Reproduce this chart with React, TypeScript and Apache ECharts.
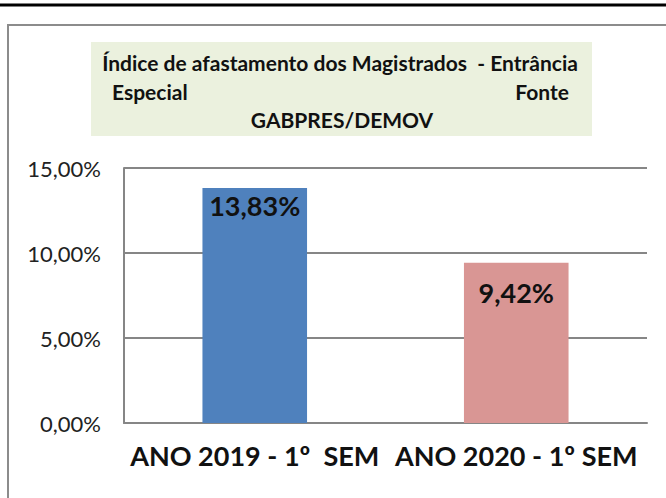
import React, { useEffect, useRef } from "react";
import * as echarts from "echarts";

const categories = ["ANO 2019 - 1º  SEM", "ANO 2020 - 1º SEM"];
const values = [13.83, 9.42];
const barColors = ["#4F81BD", "#D99694"];
const labelDistances = [4, 16];
const titleLine1 = "Índice de afastamento dos Magistrados  - Entrância";
const titleLine2Left = "Especial";
const titleLine2Right = "Fonte";
const titleLine3 = "GABPRES/DEMOV";
const yMin = 0;
const yMax = 15;
const yInterval = 5;

const fmt = (v: number) => v.toFixed(2).replace(".", ",") + "%";
const FONT = "Lato, 'Open Sans', sans-serif";

export default function App() {
  const ref = useRef<HTMLDivElement>(null);
  useEffect(() => {
    if (!ref.current) return;
    const chart = echarts.init(ref.current, null, { renderer: "svg" });
    const titleStyle = { fontFamily: FONT, fontWeight: "bold", fontSize: 21, fill: "#111" };
    chart.setOption({
      animation: false,
      backgroundColor: "#ffffff",
      grid: { left: 124, right: 19, top: 168, bottom: 75, containLabel: false },
      xAxis: {
        type: "category",
        data: categories,
        axisLine: { show: true, lineStyle: { color: "#868686", width: 2 } },
        axisTick: { show: false },
        axisLabel: {
          fontFamily: FONT,
          fontWeight: "bold",
          fontSize: 27,
          color: "#111",
          margin: 19,
          interval: 0,
        },
      },
      yAxis: {
        type: "value",
        min: yMin,
        max: yMax,
        interval: yInterval,
        axisLine: { show: true, lineStyle: { color: "#868686", width: 2 } },
        axisTick: { show: false },
        splitLine: { show: true, lineStyle: { color: "#868686", width: 2 } },
        axisLabel: {
          fontFamily: FONT,
          fontSize: 22,
          color: "#222",
          margin: 23,
          formatter: (v: number) => fmt(v),
        },
      },
      series: [
        {
          type: "bar",
          barWidth: "40%",
          data: values.map((v, i) => ({
            value: v,
            itemStyle: { color: barColors[i] },
            label: { distance: labelDistances[i] },
          })),
          label: {
            show: true,
            position: "insideTop",
            fontFamily: FONT,
            fontWeight: "bold",
            fontSize: 27,
            color: "#111",
            formatter: (p: any) => fmt(p.value),
          },
        },
      ],
      graphic: [
        {
          type: "line",
          shape: { x1: 0, y1: 5, x2: 666, y2: 5 },
          style: { stroke: "#000", lineWidth: 3 },
        },
        {
          type: "polyline",
          shape: { points: [[8, 498], [8, 25], [666, 25]] },
          style: { stroke: "#8c8c8c", lineWidth: 2, fill: "none" },
        },
        {
          type: "rect",
          shape: { x: 91, y: 42, width: 501, height: 94 },
          style: { fill: "#EBF1DE" },
        },
        {
          type: "text",
          x: 340,
          y: 62,
          style: { ...titleStyle, text: titleLine1, textAlign: "center", textVerticalAlign: "middle" },
        },
        {
          type: "text",
          x: 112,
          y: 91,
          style: { ...titleStyle, text: titleLine2Left, textAlign: "left", textVerticalAlign: "middle" },
        },
        {
          type: "text",
          x: 569,
          y: 91,
          style: { ...titleStyle, text: titleLine2Right, textAlign: "right", textVerticalAlign: "middle" },
        },
        {
          type: "text",
          x: 342,
          y: 119,
          style: { ...titleStyle, text: titleLine3, textAlign: "center", textVerticalAlign: "middle" },
        },
      ],
    });
    return () => chart.dispose();
  }, []);
  return (
    <div
      ref={ref}
      style={{ position: "absolute", left: 0, top: 0, width: 666, height: 498 }}
    />
  );
}
